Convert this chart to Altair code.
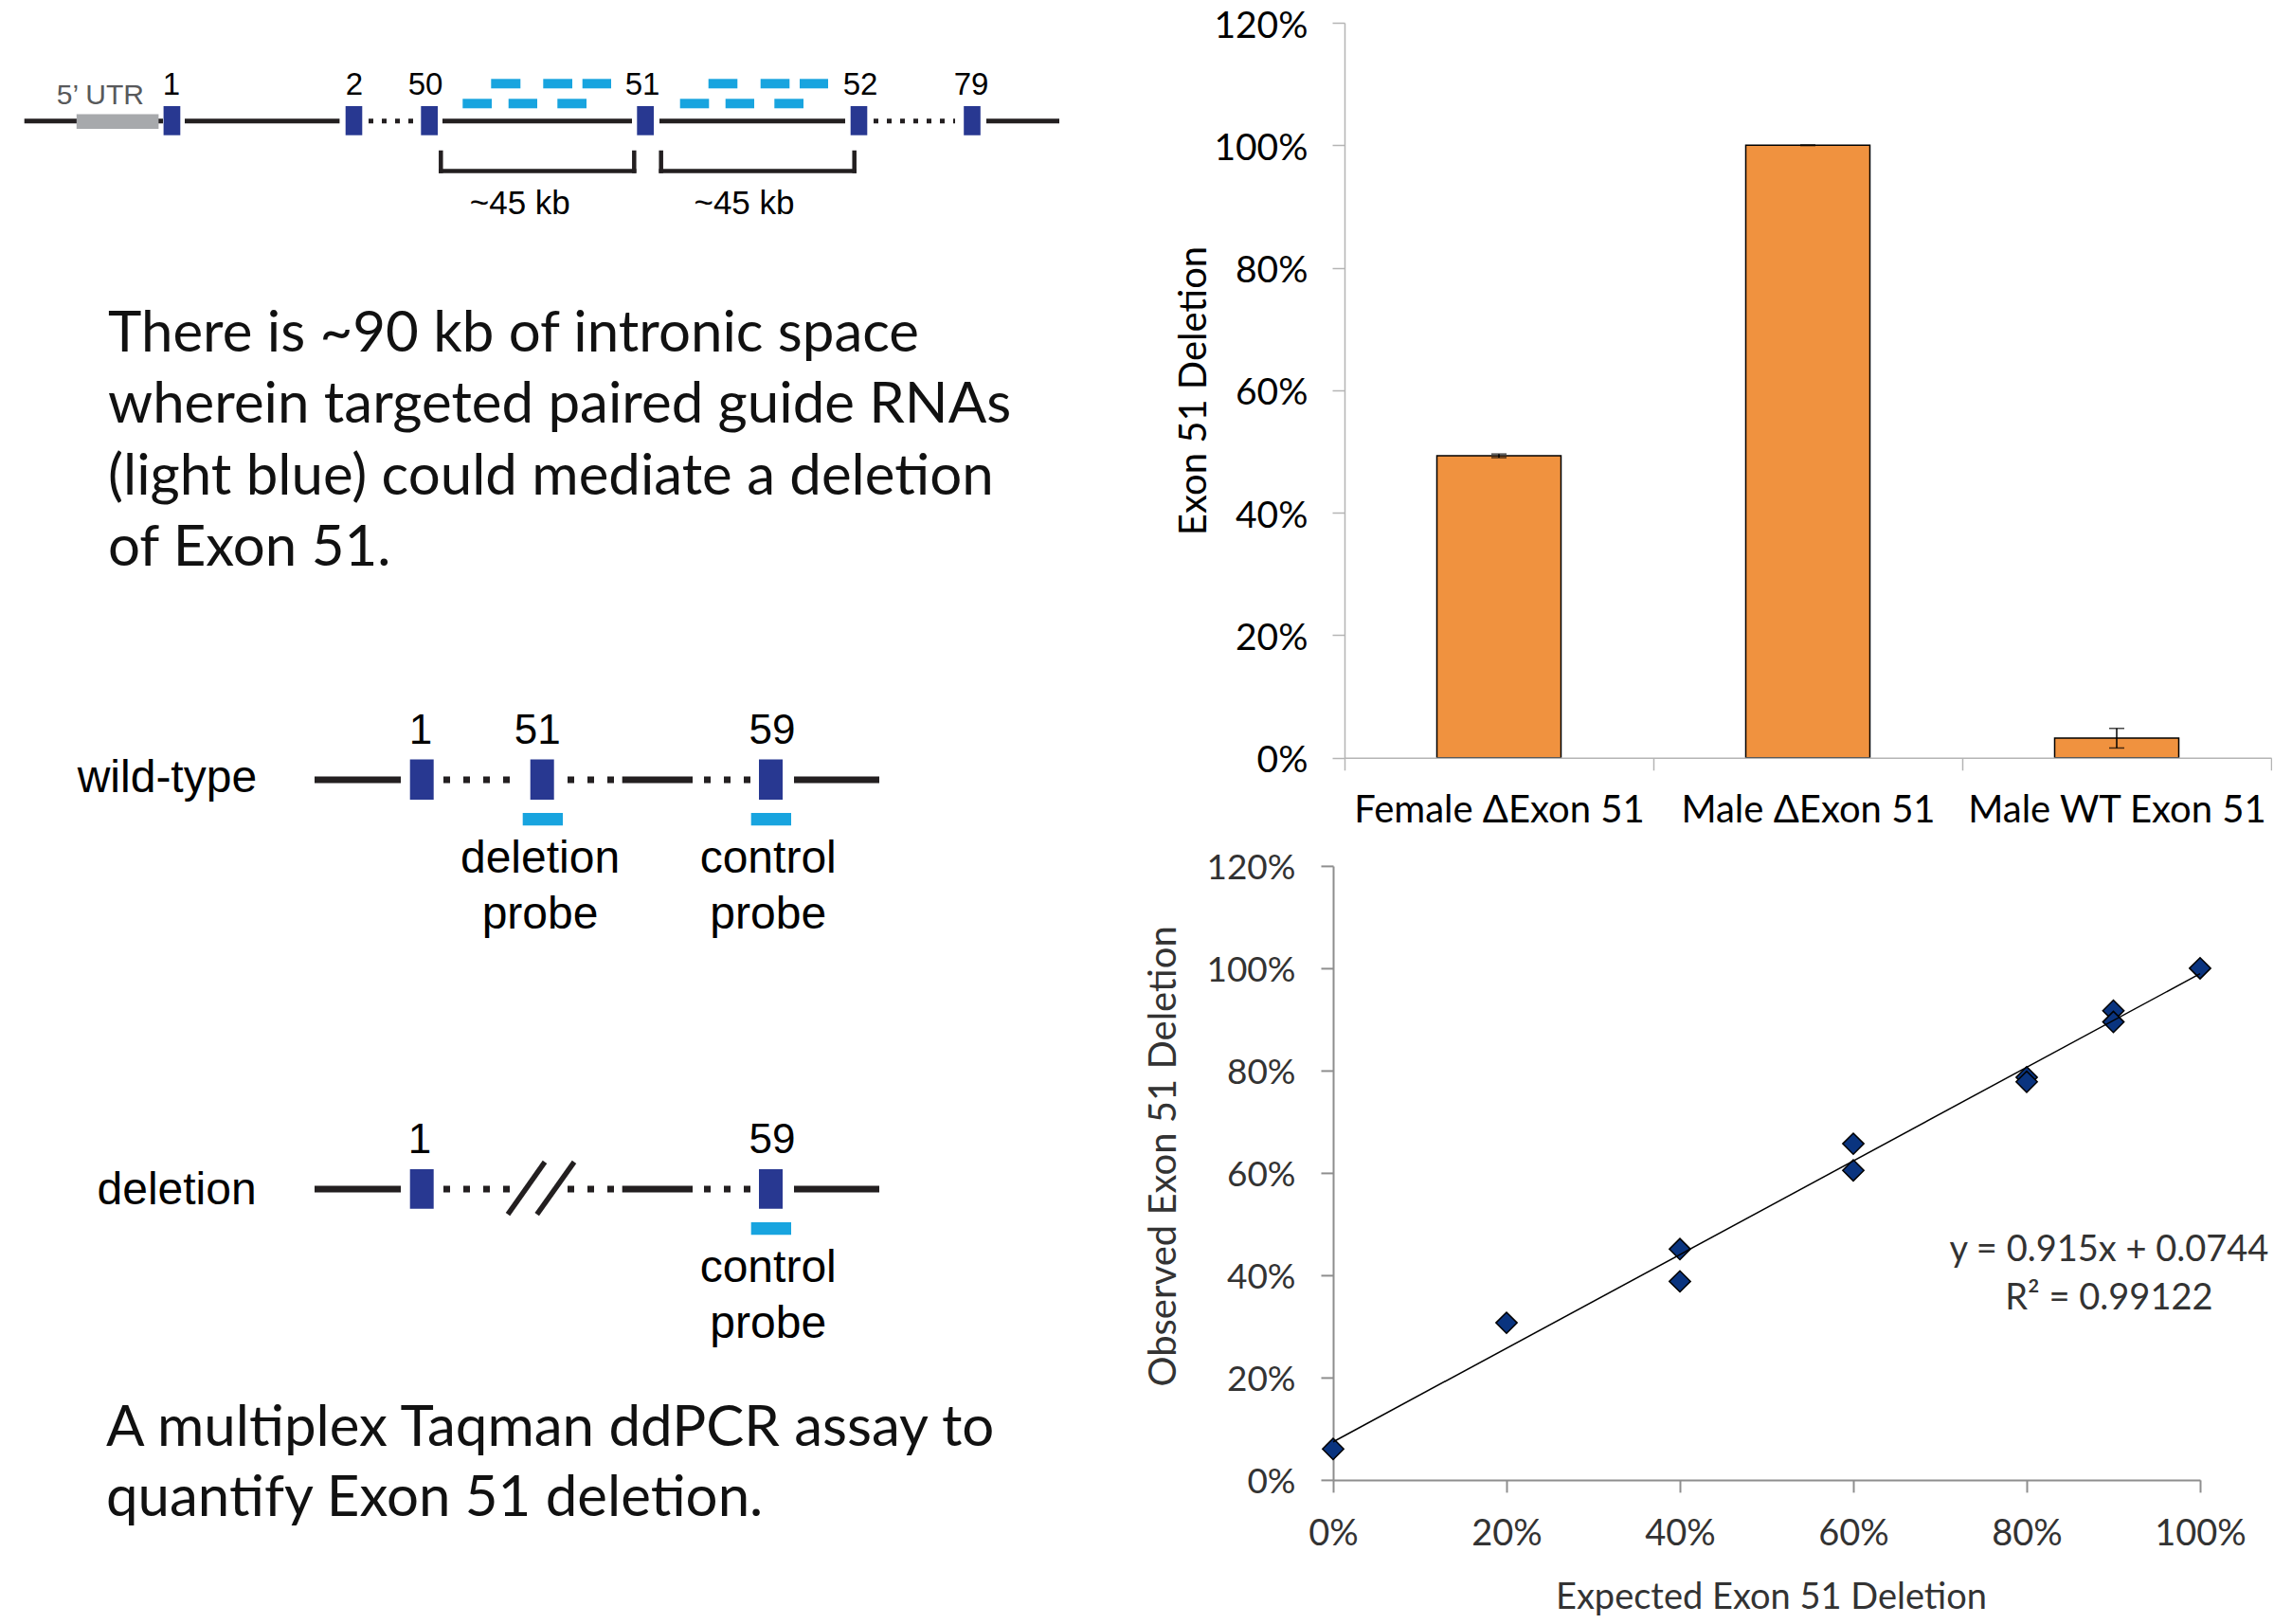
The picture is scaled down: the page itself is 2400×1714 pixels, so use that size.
import altair as alt
import pandas as pd

# ---------------- data: bar chart ----------------
samples = ["Female ΔExon 51", "Male ΔExon 51", "Male WT Exon 51"]
deletion = [0.493, 1.000, 0.032]
deletion_err = [0.003, 0.0005, 0.016]

# ---------------- data: scatter ----------------
expected = [0.0, 0.2, 0.4, 0.4, 0.6, 0.6, 0.8, 0.8, 0.9, 0.9, 1.0]
observed = [0.0605, 0.307, 0.451, 0.388, 0.657, 0.605, 0.787, 0.778, 0.917, 0.895, 1.0]
fit_expected = [0.0, 1.0]
fit_observed = [0.0744, 0.9894]
equation_text = ["y = 0.915x + 0.0744", "R² = 0.99122"]
equation_x = [0.895, 0.895]
equation_y = [0.428, 0.333]
pct_ticks = [0, 0.2, 0.4, 0.6, 0.8, 1.0, 1.2]
pct_ticks_x = [0, 0.2, 0.4, 0.6, 0.8, 1.0]

# ---------------- data: left panel (diagram units) ----------------
para1 = ["There is ~90 kb of intronic space",
         "wherein targeted paired guide RNAs",
         "(light blue) could mediate a deletion",
         "of Exon 51."]
para1_y = [371.7, 446.7, 523.0, 598.0]
para2 = ["A multiplex Taqman ddPCR assay to", "quantify Exon 51 deletion."]
para2_y = [1526.5, 1601.0]

# gene map (top)
top_exon_x = [172.6, 364.7, 444.3, 672.3, 897.7, 1017.2]
top_exon_x2 = [190.3, 382.3, 462.0, 690.0, 915.3, 1034.8]
top_exon_labels = ["1", "2", "50", "51", "52", "79"]
top_label_x = [181, 374, 449, 678, 908, 1025]
utr_x = [80.8, 167.4]
guide_row1_x = [518.3, 573.3, 614.7, 747.7, 802.7, 844.0]
guide_row1_x2 = [549.3, 604.0, 645.0, 778.3, 833.3, 874.0]
guide_row2_x = [488.3, 536.7, 588.3, 717.7, 765.7, 817.3]
guide_row2_x2 = [519.0, 567.0, 619.0, 748.3, 796.0, 848.0]
top_solid = [(25.7, 172.0), (195.0, 358.4), (467.0, 667.0), (696.0, 892.0), (1041.0, 1118.0)]
top_dotted = [(389.0, 441.0), (922.0, 1008.0)]
bracket_x = [(465.3, 669.3), (697.7, 901.7)]
bracket_labels = ["~45 kb", "~45 kb"]
bracket_label_x = [548.8, 785.5]

# probe diagrams (wild-type / deletion)
row_labels = ["wild-type", "deletion"]
row_line_y = [824.0, 1256.0]
row_label_x = [81.7, 102.5]
row_label_dy = [12.7, 15.5]
probe_solid = [(332.0, 423.0), (656.7, 731.0), (838.0, 928.0)]
probe_dotted = [(468.0, 538.0), (599.0, 648.0), (743.0, 792.0)]
wt_exon_x = [432.7, 559.7, 801.0]
wt_exon_labels = ["1", "51", "59"]
wt_label_x = [444.0, 567.3, 815.0]
del_exon_x = [432.7, 801.0]
del_exon_labels = ["1", "59"]
del_label_x = [443.0, 815.0]
probe_x = [551.7, 792.7]
probe_names = [["deletion", "probe"], ["control", "probe"]]
probe_name_x = [570.0, 810.7]
slash_x = [(536.0, 575.0), (566.7, 606.0)]

# ---------------- styles ----------------
EXON = "#283891"
GUIDE = "#18A4DF"
LINE = "#231F20"
UTR = "#A7A9AC"
UTR_TXT = "#58595B"
ORANGE = "#F0923F"
NAVY = "#0A347F"
AX1 = "#B4B4B4"
AX2 = "#8E8E8E"
CHART_FONT = "Lato"
DIAG_FONT = "Liberation Sans"

W_L, H_L, TOP = 1180, 1640, 25
XS = alt.Scale(domain=[0, W_L], nice=False, zero=False)
YS = alt.Scale(domain=[TOP, TOP + H_L], reverse=True, nice=False, zero=False)

# ---------- build diagram tables ----------
rects = []
for a, b in zip(top_exon_x, top_exon_x2):
    rects.append((a, b, 113.0, 143.7, EXON))
rects.append((utr_x[0], utr_x[1], 121.6, 137.0, UTR))
for a, b in zip(guide_row1_x, guide_row1_x2):
    rects.append((a, b, 84.3, 94.3, GUIDE))
for a, b in zip(guide_row2_x, guide_row2_x2):
    rects.append((a, b, 105.3, 115.3, GUIDE))
for a in wt_exon_x:
    rects.append((a, a + 25, 802.5, 845.0, EXON))
for a in probe_x:
    rects.append((a, a + 42.3, 859.0, 872.3, GUIDE))
for a in del_exon_x:
    rects.append((a, a + 25, 1235.0, 1276.7, EXON))
rects.append((probe_x[1], probe_x[1] + 42.3, 1291.0, 1304.3, GUIDE))
rect_df = pd.DataFrame(rects, columns=["x", "x2", "y", "y2", "fill"])

solid = []
for a, b in top_solid:
    solid.append((a, 128.7, b, 128.7, 5.0))
for ly in row_line_y:
    for a, b in probe_solid:
        solid.append((a, ly, b, ly, 7.0))
for a, b in slash_x:
    solid.append((a, 1282.7, b, 1227.3, 5.5))
solid_df = pd.DataFrame(solid, columns=["x", "y", "x2", "y2", "w"])

brackets = []
for a, b in bracket_x:
    brackets.append((a, 162.0, a, 181.5))
    brackets.append((a, 181.5, b, 181.5))
    brackets.append((b, 162.0, b, 181.5))
bracket_df = pd.DataFrame(brackets, columns=["x", "y", "x2", "y2"])

dot_top_df = pd.DataFrame([(a, 128.7, b, 128.7) for a, b in top_dotted], columns=["x", "y", "x2", "y2"])
dot_row_df = pd.DataFrame([(a, ly, b, ly) for ly in row_line_y for a, b in probe_dotted],
                          columns=["x", "y", "x2", "y2"])

center_txt = []
for t, x in zip(top_exon_labels, top_label_x):
    center_txt.append((t, x, 100.5, 33, "#000000"))
center_txt.append(("5’ UTR", 105.8, 110.9, 30, UTR_TXT))
for t, x in zip(bracket_labels, bracket_label_x):
    center_txt.append((t, x, 226.7, 35, "#000000"))
for t, x in zip(wt_exon_labels, wt_label_x):
    center_txt.append((t, x, 786.0, 44, "#000000"))
for t, x in zip(del_exon_labels, del_label_x):
    center_txt.append((t, x, 1217.7, 44, "#000000"))
for (l1, l2), x in zip(probe_names, probe_name_x):
    center_txt.append((l1, x, 921.7, 48, "#000000"))
    center_txt.append((l2, x, 981.0, 48, "#000000"))
center_txt.append((probe_names[1][0], probe_name_x[1], 1354.3, 48, "#000000"))
center_txt.append((probe_names[1][1], probe_name_x[1], 1412.7, 48, "#000000"))
center_df = pd.DataFrame(center_txt, columns=["label", "x", "y", "fs", "col"])

left_txt = [(t, x, ly + dy) for t, x, ly, dy in zip(row_labels, row_label_x, row_line_y, row_label_dy)]
left_df = pd.DataFrame(left_txt, columns=["label", "x", "y"])

para_rows = [(t, 114.0, y) for t, y in zip(para1, para1_y)] + [(t, 112.0, y) for t, y in zip(para2, para2_y)]
para_df = pd.DataFrame(para_rows, columns=["label", "x", "y"])

X = alt.X("x:Q", scale=XS, axis=None)
Y = alt.Y("y:Q", scale=YS, axis=None)

l_rect = alt.Chart(rect_df).mark_rect().encode(
    x=X, x2="x2:Q", y=Y, y2="y2:Q", fill=alt.Fill("fill:N", scale=None))
l_solid = alt.Chart(solid_df).mark_rule(color=LINE, strokeCap="butt").encode(
    x=X, x2="x2:Q", y=Y, y2="y2:Q", strokeWidth=alt.StrokeWidth("w:Q", scale=None))
l_brk = alt.Chart(bracket_df).mark_rule(color=LINE, strokeCap="square", strokeWidth=4.5).encode(
    x=X, x2="x2:Q", y=Y, y2="y2:Q")
l_dot1 = alt.Chart(dot_top_df).mark_rule(color=LINE, strokeCap="butt", strokeWidth=5, strokeDash=[5, 9]).encode(
    x=X, x2="x2:Q", y=Y, y2="y2:Q")
l_dot2 = alt.Chart(dot_row_df).mark_rule(color=LINE, strokeCap="butt", strokeWidth=7, strokeDash=[7, 14]).encode(
    x=X, x2="x2:Q", y=Y, y2="y2:Q")
l_ctext = alt.Chart(center_df).mark_text(font=DIAG_FONT, align="center", baseline="alphabetic").encode(
    x=X, y=Y, text="label:N", size=alt.Size("fs:Q", scale=None), color=alt.Color("col:N", scale=None))
l_ltext = alt.Chart(left_df).mark_text(font=DIAG_FONT, fontSize=48, align="left", baseline="alphabetic",
                                        color="#000000").encode(x=X, y=Y, text="label:N")
l_para = alt.Chart(para_df).mark_text(font=CHART_FONT, fontSize=60, align="left", baseline="alphabetic",
                                       color="#111111").encode(x=X, y=Y, text="label:N")

left = alt.layer(l_solid, l_brk, l_dot1, l_dot2, l_rect, l_ctext, l_ltext, l_para).properties(
    width=W_L, height=H_L)

# ---------------- bar chart ----------------
bar_df = pd.DataFrame({
    "sample": samples,
    "value": deletion,
    "lo": [v - e for v, e in zip(deletion, deletion_err)],
    "hi": [v + e for v, e in zip(deletion, deletion_err)],
})
BAR_W, BAR_H = 978, 775.8
bx = alt.X("sample:N", sort=samples, scale=alt.Scale(paddingInner=0, paddingOuter=0),
           axis=alt.Axis(title=None, labelAngle=0, tickBand="extent", tickSize=13, tickColor=AX1,
                         tickWidth=1.5, domainColor=AX1, domainWidth=1.5, labelFont=CHART_FONT,
                         labelFontSize=40, labelColor="#000000", labelPadding=55,
                         labelBaseline="alphabetic", labelLimit=600, zindex=1))
by = alt.Y("value:Q", scale=alt.Scale(domain=[0, 1.2], nice=False),
           axis=alt.Axis(values=pct_ticks, format=".0%", grid=False, tickSize=13, tickColor=AX1,
                         tickWidth=1.5, domainColor=AX1, domainWidth=1.5, labelFont=CHART_FONT,
                         labelFontSize=39, labelColor="#000000", labelPadding=26, labelOffset=3,
                         labelFlush=False,
                         title="Exon 51 Deletion", titleFont=CHART_FONT, titleFontSize=40,
                         titleFontWeight="normal", titleColor="#000000", titleX=-147, titleY=388,
                         titleAngle=270, titleBaseline="alphabetic", titleAlign="center"))
bars = alt.Chart(bar_df).mark_bar(size=131, color=ORANGE, stroke="#000000", strokeWidth=1.5).encode(x=bx, y=by)
err = alt.Chart(bar_df).mark_rule(color="#000000", strokeWidth=1.5).encode(
    x=alt.X("sample:N", sort=samples), y="lo:Q", y2="hi:Q")
cap_lo = alt.Chart(bar_df).mark_tick(color="#000000", size=16, thickness=1.5, orient="horizontal").encode(
    x=alt.X("sample:N", sort=samples), y="lo:Q")
cap_hi = alt.Chart(bar_df).mark_tick(color="#000000", size=16, thickness=1.5, orient="horizontal").encode(
    x=alt.X("sample:N", sort=samples), y="hi:Q")
bar_chart = alt.layer(bars, err, cap_lo, cap_hi).properties(width=BAR_W, height=BAR_H)

# ---------------- scatter ----------------
sc_df = pd.DataFrame({"expected": expected, "observed": observed})
fit_df = pd.DataFrame({"expected": fit_expected, "observed": fit_observed})
eq_df = pd.DataFrame({"expected": equation_x, "observed": equation_y, "label": equation_text})
SC_W, SC_H = 903, 648
sx = alt.X("expected:Q", scale=alt.Scale(domain=[0, 1], range=[-12, SC_W], nice=False, zero=False),
           axis=alt.Axis(values=pct_ticks_x, format=".0%", grid=False, tickSize=13, tickColor=AX2,
                         tickWidth=2, domainColor=AX2, domainWidth=2, labelFont=CHART_FONT,
                         labelFontSize=38, labelColor="#333333", labelPadding=56,
                         labelBaseline="alphabetic", labelFlush=False,
                         title="Expected Exon 51 Deletion", titleFont=CHART_FONT, titleFontSize=38,
                         titleFontWeight="normal", titleColor="#333333", titleX=450, titleY=136,
                         titleBaseline="alphabetic", titleAlign="center"))
sy = alt.Y("observed:Q", scale=alt.Scale(domain=[0, 1.2], nice=False),
           axis=alt.Axis(values=pct_ticks, format=".0%", grid=False, tickSize=13, tickColor=AX2,
                         tickWidth=2, domainColor=AX2, domainWidth=2, offset=12, labelFont=CHART_FONT,
                         labelFontSize=37, labelColor="#333333", labelPadding=27, labelOffset=3,
                         labelFlush=False,
                         title="Observed Exon 51 Deletion", titleFont=CHART_FONT, titleFontSize=40,
                         titleFontWeight="normal", titleColor="#333333", titleX=-167, titleY=306,
                         titleAngle=270, titleBaseline="alphabetic", titleAlign="center"))
pts = alt.Chart(sc_df).mark_point(shape="diamond", filled=True, size=500, fill=NAVY, stroke="#000000",
                                  strokeWidth=1.5, opacity=1).encode(x=sx, y=sy)
fit = alt.Chart(fit_df).mark_line(color="#000000", strokeWidth=1.5).encode(x="expected:Q", y="observed:Q")
eq = alt.Chart(eq_df).mark_text(font=CHART_FONT, fontSize=38, color="#333333", align="center",
                                baseline="alphabetic").encode(x="expected:Q", y="observed:Q", text="label:N")
scatter = alt.layer(pts, fit, eq).properties(width=SC_W, height=SC_H)

right = alt.vconcat(bar_chart, scatter, spacing=113.9, bounds="flush")

chart = alt.hconcat(left, right, spacing=1419 - W_L, bounds="flush").properties(
    padding={"top": 8, "left": 0, "right": 0, "bottom": 0},
    background="white",
).configure_view(strokeWidth=0)

chart.save("out.html", embed_options={"renderer": "svg", "actions": False})
